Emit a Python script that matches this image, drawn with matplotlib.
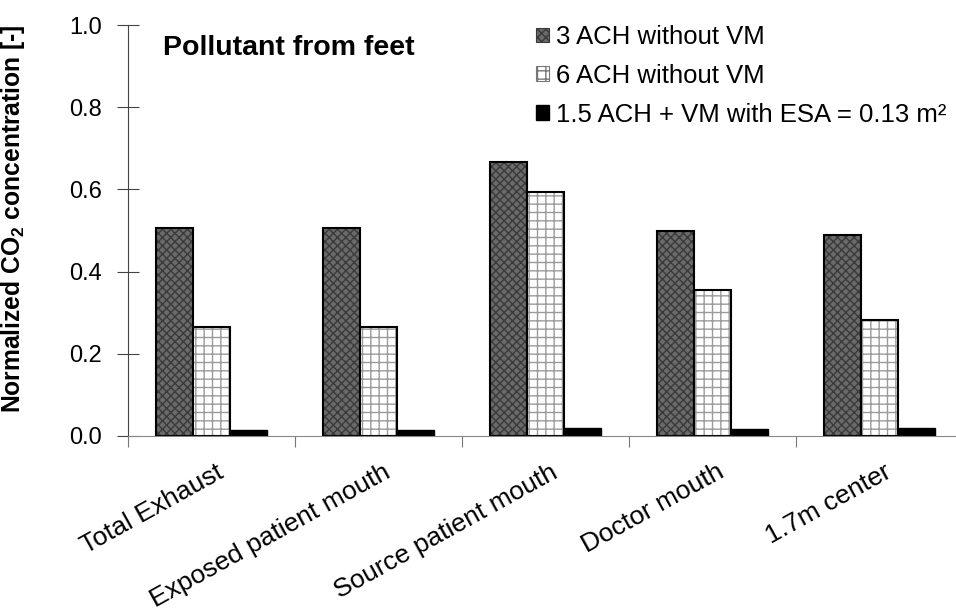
import numpy as np
import matplotlib
matplotlib.use("Agg")
import matplotlib.pyplot as plt
from matplotlib.patches import Patch

plt.rcParams["font.family"] = ["Liberation Sans", "DejaVu Sans"]
plt.rcParams["mathtext.fontset"] = "custom"
plt.rcParams["mathtext.rm"] = "Liberation Sans"
plt.rcParams["mathtext.bf"] = "Liberation Sans:bold"
plt.rcParams["hatch.linewidth"] = 1.0

categories = ["Total Exhaust", "Exposed patient mouth", "Source patient mouth",
              "Doctor mouth", "1.7m center"]
ach3_no_vm = [0.507, 0.505, 0.666, 0.500, 0.488]
ach6_no_vm = [0.264, 0.264, 0.593, 0.355, 0.282]
ach15_vm = [0.015, 0.015, 0.019, 0.017, 0.019]
series_labels = ["3 ACH without VM", "6 ACH without VM",
                 "1.5 ACH + VM with ESA = 0.13 m²"]
yticks = [0.0, 0.2, 0.4, 0.6, 0.8, 1.0]

fig = plt.figure(figsize=(9.56, 6.12), dpi=100)
ax = fig.add_axes([128 / 956, (612 - 436) / 612, 835 / 956, 411 / 612])

x = np.arange(len(categories))
w = 0.222

# dark checker bars
ax.bar(x - w, ach3_no_vm, w, color="#6a6a6a", edgecolor="none")
ax.bar(x - w, ach3_no_vm, w, color="none", edgecolor="#3a3a3a", hatch="xxxx", lw=0)
ax.bar(x - w, ach3_no_vm, w, color="none", edgecolor="black", lw=1.5)
# dotted grid bars
ax.bar(x, ach6_no_vm, w, color="white", edgecolor="none")
ax.bar(x, ach6_no_vm, w, color="none", edgecolor="#9a9a9a", hatch="++", lw=0)
ax.bar(x, ach6_no_vm, w, color="none", edgecolor="black", lw=1.5)
# solid black bars
ax.bar(x + w, ach15_vm, w, color="black", edgecolor="black", lw=1)

handles = [Patch(facecolor="#6a6a6a", edgecolor="#3a3a3a", hatch="xxxx", lw=0.8),
           Patch(facecolor="white", edgecolor="#777777", hatch="++", lw=0.8),
           Patch(facecolor="black", edgecolor="black")]
fig.legend(handles, series_labels, loc="upper left",
           bbox_to_anchor=(536 / 956, 1 - 25 / 612), frameon=False, fontsize=18.5,
           handlelength=0.5, handleheight=0.5, handletextpad=0.27,
           labelspacing=0.58, borderaxespad=0, borderpad=0)

ax.set_xlim(-0.5, len(categories) - 0.5)
ax.set_ylim(0, 1.0)
ax.set_yticks(yticks)
ax.set_yticklabels([f"{v:.1f}" for v in yticks], fontsize=17)
ax.tick_params(axis="y", direction="inout", length=16, width=0.8, pad=11,
               color="#444444")

ax.set_xticks(np.arange(len(categories) + 1) - 0.5)
ax.set_xticklabels([])
ax.tick_params(axis="x", direction="out", length=8, width=0.8, color="#777777")
for i, lab in enumerate(categories):
    ax.text(i + 0.024, -0.058, lab, rotation=29, ha="right", va="top",
            rotation_mode="anchor", fontsize=19, transform=ax.transData)

for s in ["top", "right"]:
    ax.spines[s].set_visible(False)
ax.spines["left"].set_color("#444444")
ax.spines["bottom"].set_color("#888888")

ax.set_ylabel(r"Normalized CO$_\mathbf{2}$ concentration [-]", fontsize=17.7,
              fontweight="bold")
ax.yaxis.set_label_coords(-(128 - 27) / 835, 0.53)
ax.text(0.042, 0.944, "Pollutant from feet", transform=ax.transAxes,
        fontsize=20.5, fontweight="bold", va="center", ha="left")

fig.savefig("out.png", dpi=100)
